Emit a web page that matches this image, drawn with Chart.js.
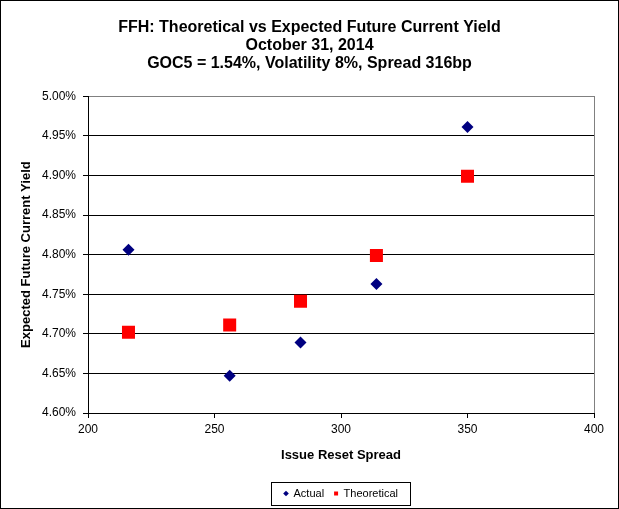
<!DOCTYPE html>
<html>
<head>
<meta charset="utf-8">
<script src="https://cdn.jsdelivr.net/npm/chart.js@4.4.1/dist/chart.umd.min.js"></script>
<style>
  body { margin: 0; background: #fff; }
  canvas { display: block; }
</style>
</head>
<body>
<canvas id="yieldChart" width="619" height="509"></canvas>
<script>
// values
const spreads = [216, 256, 284, 314, 350];
const actualYield = [4.806, 4.647, 4.689, 4.763, 4.961];
const theoreticalYield = [4.702, 4.711, 4.741, 4.799, 4.899];
const titleLines = ['FFH: Theoretical vs Expected Future Current Yield', 'October 31, 2014', 'GOC5 = 1.54%, Volatility 8%, Spread 316bp'];

const FONT = 'Arial, "Liberation Sans", sans-serif';

function toPoints(xs, ys) {
    return xs.map((x, i) => ({ x: x, y: ys[i] }));
}

// grey border top/right of plot area, legend frame and outer frame
const framePlugin = {
    id: 'frames',
    afterLayout(chart) {
        // centre the title on the whole canvas, not the padded box
        const t = chart.titleBlock;
        if (t) {
            t.left = 0;
            t.right = chart.width;
            t.width = chart.width;
        }
    },
    afterDraw(chart) {
        const ctx = chart.ctx;
        const area = chart.chartArea;
        ctx.save();
        ctx.lineWidth = 1;
        ctx.strokeStyle = '#808080';
        ctx.beginPath();
        ctx.moveTo(Math.round(area.right) + 0.5, Math.round(area.top));
        ctx.lineTo(Math.round(area.right) + 0.5, Math.round(area.bottom));
        ctx.stroke();

        const boxes = chart.legend.legendHitBoxes;
        if (boxes && boxes.length) {
            const first = boxes[0];
            const last = boxes[boxes.length - 1];
            const left = first.left - 13;
            const right = last.left + last.width + 12;
            const top = first.top - 6;
            const bottom = first.top + first.height + 6;
            ctx.strokeStyle = '#000';
            ctx.strokeRect(Math.round(left) + 0.5, Math.round(top) + 0.5, Math.round(right - left), Math.round(bottom - top));
        }

        ctx.strokeStyle = '#000';
        ctx.strokeRect(0.5, 0.5, chart.width - 1, chart.height - 1);
        ctx.restore();
    }
};

const ctx = document.getElementById('yieldChart').getContext('2d');
const yieldChart = new Chart(ctx, {
    type: 'scatter',
    data: {
        datasets: [{
            label: 'Actual',
            data: toPoints(spreads, actualYield),
            pointStyle: 'rectRot',
            pointRadius: 6,
            pointHoverRadius: 6,
            backgroundColor: '#000080',
            borderColor: '#000080',
            borderWidth: 0
        }, {
            label: 'Theoretical',
            data: toPoints(spreads, theoreticalYield),
            pointStyle: 'rect',
            pointRadius: 9.2,
            pointHoverRadius: 9.2,
            backgroundColor: '#FF0000',
            borderColor: '#FF0000',
            borderWidth: 0
        }]
    },
    options: {
        responsive: false,
        animation: false,
        layout: {
            padding: { left: 0, right: 25, top: 0, bottom: 0 }
        },
        plugins: {
            title: {
                display: true,
                text: titleLines,
                color: '#000',
                font: { family: FONT, size: 16, weight: 'bold', lineHeight: 1.15 },
                padding: { top: 18, bottom: 23 }
            },
            legend: {
                position: 'bottom',
                fullSize: false,
                labels: {
                    usePointStyle: true,
                    boxWidth: 4,
                    boxHeight: 4,
                    padding: 10,
                    color: '#000',
                    font: { family: FONT, size: 11 }
                }
            },
            tooltip: { enabled: false }
        },
        scales: {
            x: {
                type: 'linear',
                min: 200,
                max: 400,
                ticks: {
                    stepSize: 50,
                    color: '#000',
                    padding: 4,
                    font: { family: FONT, size: 12 }
                },
                grid: {
                    drawOnChartArea: false,
                    drawTicks: true,
                    tickLength: 5,
                    tickColor: '#000'
                },
                border: { color: '#000', width: 1 },
                title: {
                    display: true,
                    text: 'Issue Reset Spread',
                    color: '#000',
                    font: { family: FONT, size: 13, weight: 'bold' },
                    padding: { top: 4, bottom: 15 }
                },
                afterFit(scale) {
                    scale.height = 65;
                }
            },
            y: {
                type: 'linear',
                min: 4.6,
                max: 5.0,
                ticks: {
                    stepSize: 0.05,
                    color: '#000',
                    padding: 7,
                    font: { family: FONT, size: 12 },
                    callback: (v) => v.toFixed(2) + '%'
                },
                grid: {
                    color: (c) => (c.tick && Math.abs(c.tick.value - 5) < 1e-6) ? '#808080' : '#000',
                    tickColor: '#000',
                    tickLength: 5,
                    lineWidth: 1
                },
                border: { color: '#000', width: 1 },
                title: {
                    display: true,
                    text: 'Expected Future Current Yield',
                    color: '#000',
                    font: { family: FONT, size: 13, weight: 'bold' },
                    padding: { top: 19, bottom: 4 }
                },
                afterFit(scale) {
                    scale.width = 88;
                }
            }
        }
    },
    plugins: [framePlugin]
});
</script>
</body>
</html>
